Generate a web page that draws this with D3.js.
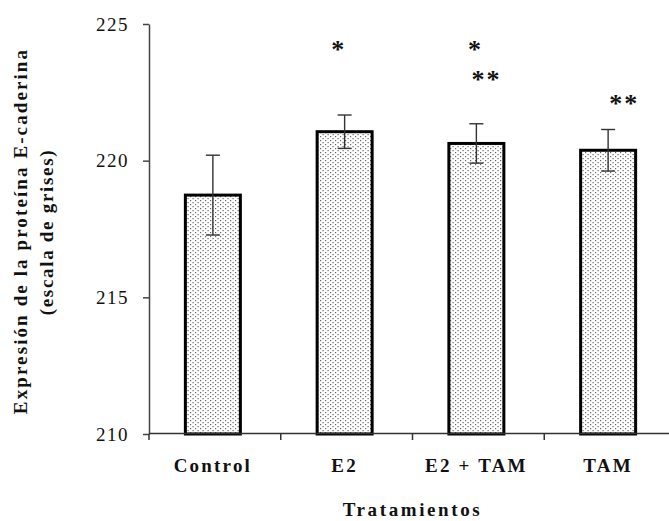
<!DOCTYPE html>
<html>
<head>
<meta charset="utf-8">
<script src="https://cdn.jsdelivr.net/npm/d3@7"></script>
<style>
  html, body { margin: 0; padding: 0; background: #fff; }
  svg { display: block; }
  svg text { font-family: 'Liberation Serif', 'DejaVu Serif', serif !important; fill: #111; }
</style>
</head>
<body>
<svg id="chart" width="669" height="521"></svg>
<script>
// Tratamientos y expresión media de E-cadherina (escala de grises) con error estándar
const categories = ["Control", "E2", "E2 + TAM", "TAM"];
const means = [218.74, 221.06, 220.63, 220.38];
const errors = [1.46, 0.61, 0.72, 0.76];
const yTicks = [210, 215, 220, 225];
const marks = [[], ["*"], ["*", "**"], ["**"]];

(function () {
  const svg = d3.select("#chart");
  const plotL = 149, plotR = 676, plotT = 24, plotB = 434;
  const serif = "'Liberation Serif', 'DejaVu Serif', serif";

  const x = d3.scaleBand().domain(categories).range([plotL, plotR]).padding(0);
  const y = d3.scaleLinear().domain([210, 225]).range([plotB, plotT]);

  // dotted fill
  const defs = svg.append("defs");
  const pat = defs.append("pattern")
    .attr("id", "dots").attr("patternUnits", "userSpaceOnUse")
    .attr("width", 5).attr("height", 4);
  pat.append("rect").attr("width", 5).attr("height", 4).attr("fill", "#fff");
  pat.append("rect").attr("x", 0).attr("y", 0).attr("width", 1.2).attr("height", 1.2).attr("fill", "#666");
  pat.append("rect").attr("x", 2.5).attr("y", 2).attr("width", 1.2).attr("height", 1.2).attr("fill", "#666");

  const barW = 55;
  const cx = d => x(d) + x.bandwidth() / 2 - 2;

  // bars
  svg.append("g").selectAll("rect")
    .data(categories)
    .join("rect")
    .attr("x", d => cx(d) - barW / 2)
    .attr("y", (d, i) => y(means[i]))
    .attr("width", barW)
    .attr("height", (d, i) => y(210) - y(means[i]))
    .attr("fill", "url(#dots)")
    .attr("stroke", "#000")
    .attr("stroke-width", 3);

  // error bars
  const eb = svg.append("g").attr("stroke", "#333").attr("stroke-width", 1.4);
  categories.forEach((c, i) => {
    const xc = cx(c), hi = y(means[i] + errors[i]), lo = y(means[i] - errors[i]);
    eb.append("line").attr("x1", xc).attr("x2", xc).attr("y1", hi).attr("y2", lo);
    eb.append("line").attr("x1", xc - 7).attr("x2", xc + 7).attr("y1", hi).attr("y2", hi);
    eb.append("line").attr("x1", xc - 7).attr("x2", xc + 7).attr("y1", lo).attr("y2", lo);
  });

  // y axis
  const yAxis = svg.append("g")
    .attr("transform", `translate(${plotL},0)`)
    .call(d3.axisLeft(y).tickValues(yTicks).tickSize(6).tickPadding(14).tickSizeOuter(0))
    .attr("font-family", serif);
  yAxis.select(".domain").attr("stroke", "#444").attr("stroke-width", 1.5);
  yAxis.selectAll(".tick line").attr("stroke", "#444").attr("stroke-width", 1.5);
  yAxis.selectAll(".tick text")
    .attr("font-family", serif)
    .attr("font-size", 19).attr("letter-spacing", 1.5).attr("fill", "#111");

  // x axis: line with ticks between categories
  const xg = svg.append("g");
  xg.append("line").attr("x1", plotL).attr("x2", plotR).attr("y1", plotB - 0.5).attr("y2", plotB - 0.5)
    .attr("stroke", "#333").attr("stroke-width", 1.5);
  xg.selectAll("line.tk")
    .data(categories.map(c => x(c)))
    .join("line").attr("class", "tk")
    .attr("x1", d => d).attr("x2", d => d)
    .attr("y1", plotB).attr("y2", plotB + 6)
    .attr("stroke", "#333").attr("stroke-width", 1.5);

  xg.selectAll("text")
    .data(categories)
    .join("text")
    .attr("x", d => cx(d))
    .attr("y", 472)
    .attr("text-anchor", "middle")
    .attr("font-family", serif)
    .attr("font-size", 19).attr("font-weight", "bold").attr("letter-spacing", 2.2)
    .text(d => d);

  // axis titles
  svg.append("text")
    .attr("x", (plotL + plotR) / 2).attr("y", 516)
    .attr("text-anchor", "middle")
    .attr("font-family", serif)
    .attr("font-size", 19).attr("font-weight", "bold").attr("letter-spacing", 2.6)
    .text("Tratamientos");

  svg.append("text")
    .attr("transform", "translate(27,231) rotate(-90)")
    .attr("text-anchor", "middle")
    .attr("font-family", serif)
    .attr("font-size", 19).attr("font-weight", "bold").attr("letter-spacing", 2.1)
    .text("Expresión de la proteína E-caderina");

  svg.append("text")
    .attr("transform", "translate(53,232) rotate(-90)")
    .attr("text-anchor", "middle")
    .attr("font-family", serif)
    .attr("font-size", 19).attr("font-weight", "bold").attr("letter-spacing", 1.7)
    .text("(escala de grises)");

  // significance marks above bars: row levels in axis units, horizontal nudges in px
  const markLevels = [[], [224.22], [224.22, 223.12], [222.27]];
  const shifts = [[], [-6], [-1, 10], [16]];
  const ann = svg.append("g");
  categories.forEach((c, i) => {
    marks[i].forEach((m, j) => {
      ann.append("text")
        .attr("x", cx(c) + shifts[i][j])
        .attr("y", y(markLevels[i][j]) + 13)
        .attr("text-anchor", "middle")
        .attr("font-family", serif)
        .attr("font-size", 26).attr("font-weight", "bold").attr("letter-spacing", 2)
        .text(m);
    });
  });
})();
</script>
</body>
</html>
